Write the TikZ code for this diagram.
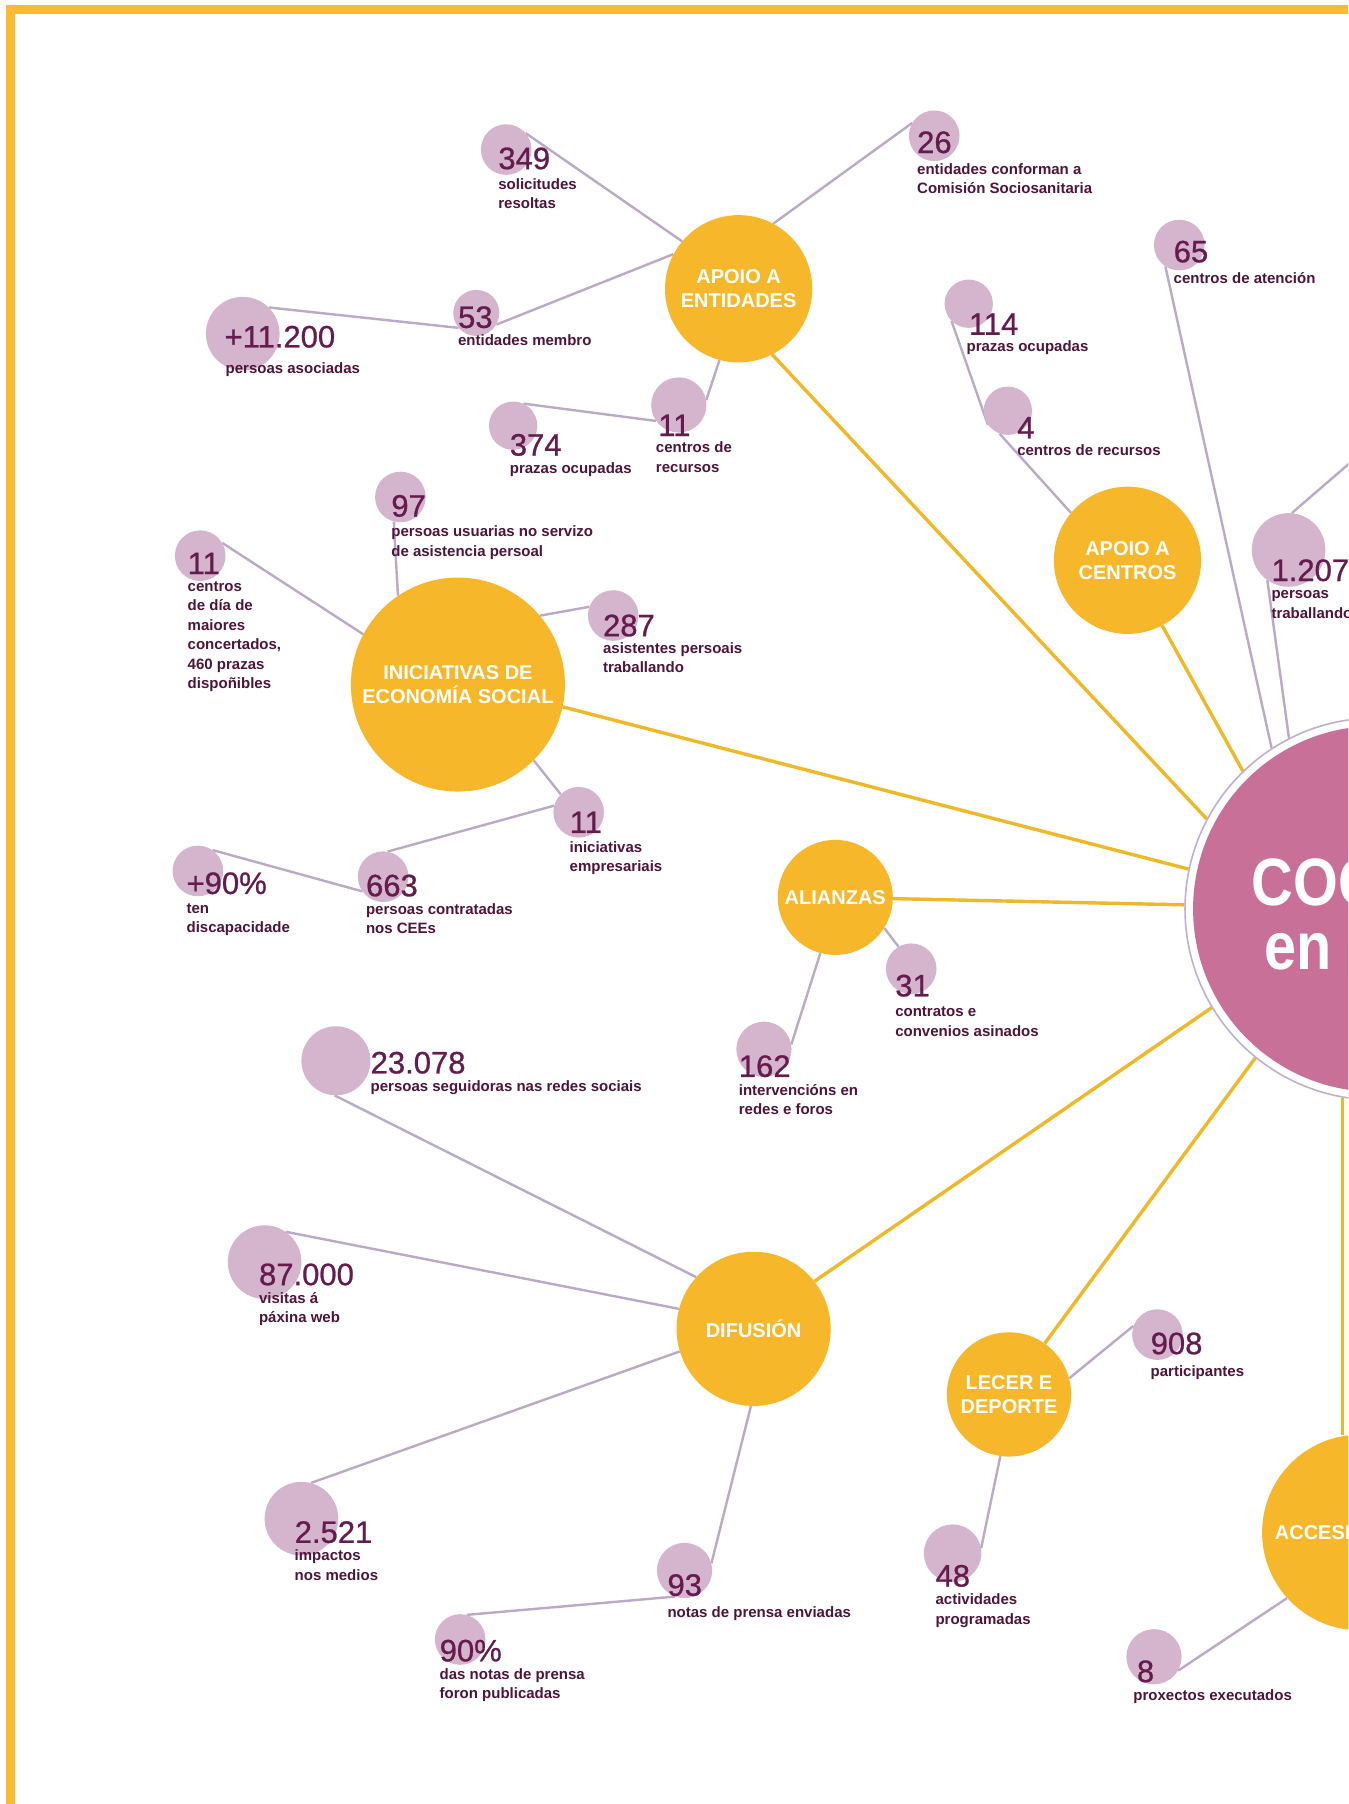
\documentclass[tikz,border=0pt]{standalone}
\usepackage{fontspec}
\setmainfont{Liberation Sans}
\newfontfamily\numfont[FakeBold=0.8]{Liberation Sans}
\definecolor{orng}{RGB}{246,183,42}
\definecolor{bord}{RGB}{250,187,51}
\definecolor{bubc}{RGB}{213,180,206}
\definecolor{linec}{RGB}{186,170,198}
\definecolor{oline}{RGB}{238,184,40}
\definecolor{pinkc}{RGB}{201,112,153}
\definecolor{ringc}{RGB}{192,176,208}
\definecolor{numc}{RGB}{100,28,78}
\definecolor{labc}{RGB}{78,20,58}
\pgfdeclarelayer{bg}
\pgfsetlayers{bg,main}
\tikzset{
  bub/.style={circle, fill=bubc, inner sep=0pt, minimum size=#1*2.3004pt},
  oc/.style={circle, fill=orng, inner sep=0pt, minimum size=#1*2.3004pt, text=white,
    font=\fontsize{20}{24}\selectfont\bfseries, align=center},
  num/.style={anchor=base west, inner sep=0pt, text=numc, font=\fontsize{31}{31}\numfont},
  lab/.style={anchor=north west, inner sep=0pt, text=labc, align=left,
    font=\fontsize{15}{19.5}\selectfont\bfseries},
  gl/.style={draw=linec, line width=2.4pt},
  ol/.style={draw=oline, line width=3.4pt},
  bigt/.style={anchor=base west, inner sep=0pt, text=white, font=\fontsize{67}{67}\selectfont\bfseries}
}
\begin{document}
\begin{tikzpicture}[x=1.1502pt,y=-1.1502pt]
\useasboundingbox (0,0) rectangle (1172,1568);
\begin{scope}
\clip (0,0) rectangle (1172,1568);
% central circle
\node[circle, fill=white, draw=ringc, line width=1.6pt, minimum size=332*1.1502pt, inner sep=0pt] (cc) at (1196,790) {};
\node[circle, fill=pinkc, minimum size=318*1.1502pt, inner sep=0pt] (ccin) at (1196,790) {};
\node[bigt] (ct1) at (1088,787) {\scalebox{0.86}[1]{COGAMI}};
\node[bigt] (ct2) at (1099,843) {\scalebox{0.86}[1]{en cifras}};
% orange circles
\node[oc=64] (ae) at (642,251) {APOIO A\\ENTIDADES};
\node[oc=64] (ac) at (980,487) {APOIO A\\CENTROS};
\node[oc=93] (ies) at (398,595) {INICIATIVAS DE\\ECONOMÍA SOCIAL};
\node[oc=50] (al) at (726,780) {ALIANZAS};
\node[oc=67] (dif) at (655,1155) {DIFUSIÓN};
\node[oc=54] (lec) at (877,1212) {LECER E\\DEPORTE};
\node[oc=85] (acc) at (1182,1332) {ACCESIBILIDADE};
% bubbles
\node[bub=22] (b349) at (440,130) {};
\node[bub=22] (b26) at (812,118) {};
\node[bub=20] (b53) at (414,272) {};
\node[bub=32] (b11k) at (211,290) {};
\node[bub=24] (b11r) at (590,352) {};
\node[bub=21] (b374) at (446,370) {};
\node[bub=21] (b114) at (842,264) {};
\node[bub=21] (b4) at (876,357) {};
\node[bub=22] (b65) at (1025,213) {};
\node[bub=32] (b1207) at (1120,478) {};
\node[bub=22] (b97) at (348,432) {};
\node[bub=22] (b11d) at (174,483) {};
\node[bub=22] (b287) at (533,535) {};
\node[bub=22] (b11e) at (503,706) {};
\node[bub=22] (b663) at (333,762) {};
\node[bub=22] (b90p) at (172,757) {};
\node[bub=22] (b31) at (792,842) {};
\node[bub=24] (b162) at (664,912) {};
\node[bub=30] (b23) at (292,922) {};
\node[bub=32] (b87) at (230,1097) {};
\node[bub=32] (b2521) at (262,1320) {};
\node[bub=24] (b93) at (595,1365) {};
\node[bub=22] (b90) at (400,1425) {};
\node[bub=22] (b908) at (1006,1160) {};
\node[bub=25] (b48) at (828,1350) {};
\node[bub=24] (b8) at (1003,1440) {};
\coordinate (offr) at (1190,388);
% numbers and labels
\node[num] (n349) at (433,147) {349};
\node[lab] (l349) at (433,155) {solicitudes\\resoltas};
\node[num] (n26) at (797,133) {26};
\node[lab] (l26) at (797,142) {entidades conforman a\\Comisión Sociosanitaria};
\node[num] (n53) at (398,285) {53};
\node[lab] (l53) at (398,291) {entidades membro};
\node[num] (n11k) at (195,302) {+11.200};
\node[lab] (l11k) at (196,315) {persoas asociadas};
\node[num] (n11r) at (572,379) {11};
\node[lab] (l11r) at (570,384) {centros de\\recursos};
\node[num] (n374) at (443,396) {374};
\node[lab] (l374) at (443,402) {prazas ocupadas};
\node[num] (n114) at (842,291) {114};
\node[lab] (l114) at (840,296) {prazas ocupadas};
\node[num] (n4) at (884,381) {4};
\node[lab] (l4) at (884,386) {centros de recursos};
\node[num] (n65) at (1020,228) {65};
\node[lab] (l65) at (1020,237) {centros de atención};
\node[num] (n1207) at (1105,505) {1.207};
\node[lab] (l1207) at (1105,513) {persoas\\traballando};
\node[num] (n97) at (340,449) {97};
\node[lab] (l97) at (340,457) {persoas usuarias no servizo\\de asistencia persoal};
\node[num] (n11d) at (163,499) {11};
\node[lab] (l11d) at (163,505) {centros\\de día de\\maiores\\concertados,\\460 prazas\\dispoñibles};
\node[num] (n287) at (524,553) {287};
\node[lab] (l287) at (524,558) {asistentes persoais\\traballando};
\node[num] (n11e) at (495,724) {11};
\node[lab] (l11e) at (495,731) {iniciativas\\empresariais};
\node[num] (n663) at (318,779) {663};
\node[lab] (l663) at (318,785) {persoas contratadas\\nos CEEs};
\node[num] (n90p) at (162,777) {+90\%};
\node[lab] (l90p) at (162,785) {ten\\discapacidade};
\node[num] (n31) at (778,866) {31};
\node[lab] (l31) at (778,875) {contratos e\\convenios asinados};
\node[num] (n162) at (642,936) {162};
\node[lab] (l162) at (642,942) {intervencións en\\redes e foros};
\node[num] (n23) at (322,933) {23.078};
\node[lab] (l23) at (322,939) {persoas seguidoras nas redes sociais};
\node[num] (n87) at (225,1117) {87.000};
\node[lab] (l87) at (225,1123) {visitas á\\páxina web};
\node[num] (n2521) at (256,1341) {2.521};
\node[lab] (l2521) at (256,1347) {impactos\\nos medios};
\node[num] (n93) at (580,1387) {93};
\node[lab] (l93) at (580,1396) {notas de prensa enviadas};
\node[num] (n90) at (382,1444) {90\%};
\node[lab] (l90) at (382,1450) {das notas de prensa\\foron publicadas};
\node[num] (n908) at (1000,1177) {908};
\node[lab] (l908) at (1000,1187) {participantes};
\node[num] (n48) at (813,1379) {48};
\node[lab] (l48) at (813,1385) {actividades\\programadas};
\node[num] (n8) at (988,1462) {8};
\node[lab] (l8) at (985,1468) {proxectos executados};
% border
\fill[bord] (5.2,4.35) rectangle (1172,12.2);
\fill[bord] (5.2,4.35) rectangle (13,1568);
\end{scope}
\begin{pgfonlayer}{bg}
\begin{scope}
\clip (0,0) rectangle (1172,1568);
\fill[white] (0,0) rectangle (1172,1568);
\draw[gl] (b349.40) -- (ae.140);
\draw[gl] (ae.62) -- (b26.150);
\draw[gl] (b53.330) -- (ae.152);
\draw[gl] (b11k.45) -- (b53.220);
\draw[gl] (b11r.10) -- (ae.255);
\draw[gl] (b374.65) -- (b11r.215);
\draw[gl] (b114.225) -- (b4.215);
\draw[gl] (b4.250) -- (ac.140);
\draw[gl] (b65.237) -- (cc.123);
\draw[gl] (b1207.235) -- (cc.117);
\draw[gl] (b1207.85) -- (offr);
\draw[ol] (ac.298) -- (cc.134);
\draw[ol] (ae.297) -- (cc.152);
\draw[ol] (ies.348) -- (cc.168);
\draw[ol] (al) -- (cc);
\draw[ol] (dif.38) -- (cc.211);
\draw[ol] (lec.55) -- (cc.231);
\draw[ol] (cc.260) -- (cc.260 |- acc.north);
\draw[gl] (b97.255) -- (ies.124);
\draw[gl] (b11d.30) -- (ies.152);
\draw[gl] (b287.160) -- (ies.40);
\draw[gl] (ies.315) -- (b11e.135);
\draw[gl] (b663.80) -- (b11e.165);
\draw[gl] (b90p.55) -- (b663.215);
\draw[gl] (al.328) -- (b31.120);
\draw[gl] (al.255) -- (b162.10);
\draw[gl] (b23.268) -- (dif.138);
\draw[gl] (b87.55) -- (dif.165);
\draw[gl] (b2521.75) -- (dif.197);
\draw[gl] (dif.268) -- (b93.15);
\draw[gl] (b93.250) -- (b90.75);
\draw[gl] (lec.15) -- (b908.160);
\draw[gl] (lec.262) -- (b48.10);
\draw[gl] (acc.222) -- (b8.330);
\end{scope}
\end{pgfonlayer}
\end{tikzpicture}
\end{document}
